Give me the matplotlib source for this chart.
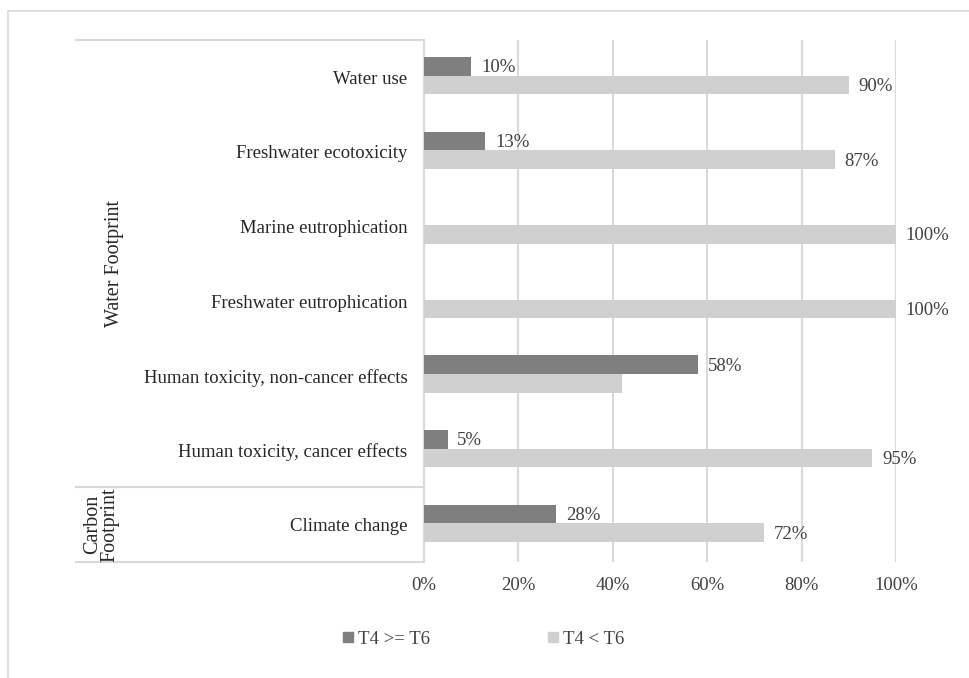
import matplotlib.pyplot as plt
from matplotlib.lines import Line2D
from matplotlib.patches import Patch
from matplotlib.transforms import blended_transform_factory

plt.rcParams['font.family'] = ['Liberation Serif', 'DejaVu Serif']

categories = ['Water use', 'Freshwater ecotoxicity', 'Marine eutrophication',
              'Freshwater eutrophication', 'Human toxicity, non-cancer effects',
              'Human toxicity, cancer effects', 'Climate change']
ge_values = [10, 13, 0, 0, 58, 5, 28]      # T4 >= T6
lt_values = [90, 87, 100, 100, 42, 95, 72]  # T4 < T6
# which bars carry a value label
ge_labelled = [True, True, False, False, True, True, True]
lt_labelled = [True, True, True, True, False, True, True]
groups = [('Water Footprint', 0, 5, 115), ('Carbon\nFootprint', 6, 6, 101)]
xticks = [0, 20, 40, 60, 80, 100]

dark = '#7f7f7f'
light = '#d0d0d0'
grid = '#d9d9d9'
txt = '#404040'
fs = 13.5

fig = plt.figure(figsize=(9.69, 6.78), dpi=100)
ax = fig.add_axes([424 / 969, 1 - 562 / 678, 472 / 969, 522 / 678])

h = 0.25
y = list(range(len(categories)))
ax.barh([v - h / 2 - 0.02 for v in y], ge_values, height=h, color=dark, zorder=3)
ax.barh([v + h / 2 - 0.02 for v in y], lt_values, height=h, color=light, zorder=3)

for i in y:
    if ge_labelled[i]:
        ax.annotate(f'{ge_values[i]}%', (ge_values[i], i - h / 2), xytext=(7, 0),
                    textcoords='offset points', va='center', ha='left',
                    fontsize=fs, color=txt)
    if lt_labelled[i]:
        ax.annotate(f'{lt_values[i]}%', (lt_values[i], i + h / 2), xytext=(7, 0),
                    textcoords='offset points', va='center', ha='left',
                    fontsize=fs, color=txt)

ax.set_xlim(0, 100)
ax.set_ylim(len(categories) - 0.5, -0.5)
ax.set_xticks(xticks)
ax.set_xticklabels([f'{t}%' for t in xticks], fontsize=fs, color=txt)
ax.set_yticks(y)
ax.set_yticklabels(categories, fontsize=fs, color='#262626')
ax.tick_params(axis='both', length=0)
ax.tick_params(axis='x', pad=11)
ax.tick_params(axis='y', pad=12)
ax.grid(axis='x', color=grid, linewidth=1.5, zorder=0)
for s in ['top', 'right', 'bottom']:
    ax.spines[s].set_visible(False)
ax.spines['left'].set_color(grid)
ax.spines['left'].set_linewidth(1.5)

# multi-level category axis: separator lines and rotated group names
tr = blended_transform_factory(ax.transAxes, ax.transData)
x0 = (76 - 424) / 472
for yb in [-0.5, 5.5, 6.5]:
    ax.plot([x0, 0], [yb, yb], transform=tr, color=grid, linewidth=1.5,
            clip_on=False)
for name, first, last, xc in groups:
    ax.text((xc - 424) / 472, (first + last) / 2, name, transform=tr,
            rotation=90, ha='center', va='center', fontsize=14.5,
            color='#262626', linespacing=0.9)

# outer chart border
fig.add_artist(Line2D([8 / 969, 8 / 969], [0, 1 - 11 / 678], color=grid, linewidth=1.2))
fig.add_artist(Line2D([8 / 969, 1], [1 - 11 / 678, 1 - 11 / 678], color=grid, linewidth=1.2))

handles = [Patch(color=dark), Patch(color=light)]
fig.legend(handles, ['T4 >= T6', 'T4 < T6'], loc='center',
           bbox_to_anchor=(484 / 969, 1 - 639 / 678), ncol=2, frameon=False,
           fontsize=fs, labelcolor=txt, handlelength=0.5, handleheight=0.5,
           handletextpad=0.3, columnspacing=6.3)

fig.savefig('out.png', dpi=100)
